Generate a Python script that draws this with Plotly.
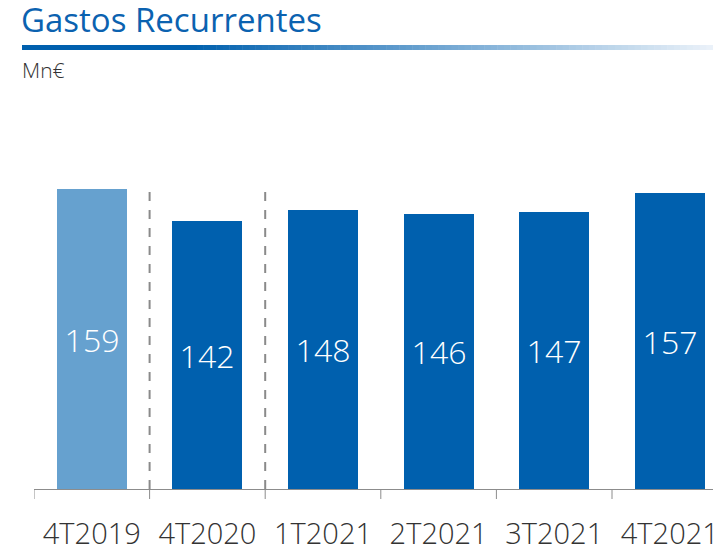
import plotly.graph_objects as go

categories = ["4T2019", "4T2020", "1T2021", "2T2021", "3T2021", "4T2021"]
values = [159, 142, 148, 146, 147, 157]
bar_colors = ["#66a1cf", "#0060ae", "#0060ae", "#0060ae", "#0060ae", "#0060ae"]
separators_after = [0, 1]  # dashed line after these category indices

W, H = 713, 546
ml, mr, mt, mb = 34, 0, 100, 57
plot_w = W - ml - mr
cat_px = 115.6
xmax = -0.5 + plot_w / cat_px
px_per_unit = 1.887
ymax = (H - mt - mb) / px_per_unit

fig = go.Figure()
fig.add_trace(go.Bar(
    x=list(range(len(categories))), y=values,
    marker=dict(color=bar_colors, line=dict(width=0)),
    width=0.605,
    text=[str(v) for v in values], textposition="inside",
    insidetextanchor="middle",
    textfont=dict(color="white", size=32, family="Open Sans", weight=300),
    cliponaxis=False,
))

shapes = []
for i in separators_after:
    shapes.append(dict(type="line", xref="x", yref="y", x0=i + 0.5, x1=i + 0.5,
                       y0=0, y1=max(values) + 3,
                       line=dict(color="#8a8a8a", width=2, dash="dash")))

def lerp(c1, c2, t):
    return tuple(int(round(a + (b - a) * t)) for a, b in zip(c1, c2))

x_start, x_solid, x_end = 22, 190, 713
y_top, y_bot = 45, 50
c_dark = (0, 96, 174)
c_light = (235, 242, 249)
def px2paperx(p):
    return (p - ml) / plot_w
def px2papery(p):
    return (H - mb - p) / (H - mt - mb)
shapes.append(dict(type="rect", xref="paper", yref="paper",
                   x0=px2paperx(x_start), x1=px2paperx(x_solid),
                   y0=px2papery(y_bot), y1=px2papery(y_top),
                   fillcolor="rgb(0,96,174)", line=dict(width=0), layer="above"))
n = 80
seg = (x_end - x_solid) / n
for k in range(n):
    c = lerp(c_dark, c_light, (k + 0.5) / n)
    shapes.append(dict(type="rect", xref="paper", yref="paper",
                       x0=px2paperx(x_solid + k * seg), x1=px2paperx(x_solid + (k + 1) * seg + 0.5),
                       y0=px2papery(y_bot), y1=px2papery(y_top),
                       fillcolor="rgb(%d,%d,%d)" % c, line=dict(width=0), layer="above"))

for b in [i - 0.5 for i in range(len(categories) + 1)]:
    shapes.append(dict(type="line", xref="x", yref="paper", x0=b, x1=b,
                       y0=0, y1=-10 / (H - mt - mb), line=dict(color="#8c8c8c", width=1)))

fig.update_layout(
    width=W, height=H,
    margin=dict(l=ml, r=mr, t=mt, b=mb, autoexpand=False),
    paper_bgcolor="white", plot_bgcolor="white",
    showlegend=False,
    bargap=0,
    title=dict(text="Gastos Recurrentes", x=21 / W, y=1 - 20 / H, xref="container", yref="container",
               xanchor="left", yanchor="middle",
               font=dict(family="Open Sans", size=33, color="#0b62b0")),
    shapes=shapes,
    annotations=[dict(text="Mn€", xref="paper", yref="paper", x=px2paperx(20), y=px2papery(70),
                      xanchor="left", yanchor="middle", showarrow=False,
                      font=dict(family="Open Sans", size=21, color="#333333", weight=300))],
    xaxis=dict(
        type="linear", range=[-0.5, xmax],
        tickmode="array", tickvals=list(range(len(categories))), ticktext=categories,
        showgrid=False, zeroline=False,
        showline=True, linecolor="#8c8c8c", linewidth=1,
        ticks="", automargin=False,
        ticklabeloverflow="allow",
        tickfont=dict(family="Open Sans", size=29, color="#333333", weight=300),
        ticklabelstandoff=19,
    ),
    yaxis=dict(range=[0, ymax], visible=False, fixedrange=True),
)

fig.write_html("out.html", config={"displayModeBar": False},
               post_script="document.body.style.margin='0';document.body.style.overflow='hidden';")
